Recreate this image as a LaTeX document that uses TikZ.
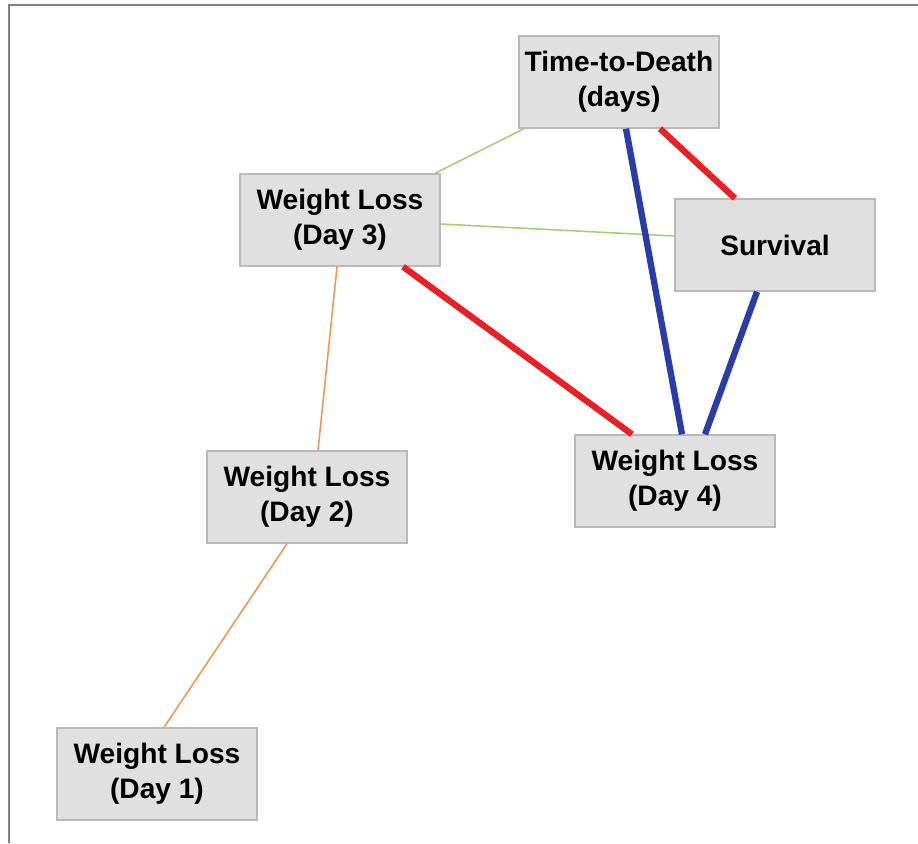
\documentclass[tikz,border=0pt]{standalone}
\usepackage{fontspec}
\setmainfont{Liberation Sans}
\usetikzlibrary{positioning}
\definecolor{boxfill}{RGB}{224,224,224}
\definecolor{boxline}{RGB}{185,185,185}
\definecolor{posred}{RGB}{232,32,40}
\definecolor{negblue}{RGB}{42,60,170}
\definecolor{weakgreen}{RGB}{165,205,115}
\definecolor{weakorange}{RGB}{240,150,80}
\tikzstyle{var} = [draw=boxline, fill=boxfill, line width=1pt, minimum width=5cm, minimum height=2.3cm, inner sep=2pt, align=center, font=\fontsize{20}{25}\selectfont\bfseries]
\tikzstyle{strongred} = [draw=posred, line width=4.5pt]
\tikzstyle{strongblue} = [draw=negblue, line width=4.5pt]
\tikzstyle{thingreen} = [draw=weakgreen, line width=1.1pt]
\tikzstyle{thinorange} = [draw=weakorange, line width=1.1pt]
\begin{document}
\begin{tikzpicture}[x=0.025cm,y=-0.025cm]
\useasboundingbox (0,0) rectangle (918,843);
% frame
\draw [gray, line width=1pt] (9,843) -- (9,5) -- (918,5);
\node (ttd) at (619,82) [var] {Time-to-Death\\(days)};
\node (day3) at (340,220) [var] {Weight Loss\\(Day 3)};
\node (surv) at (775,245) [var] {Survival};
\node (day4) at (675,481) [var] {Weight Loss\\(Day 4)};
\node (day2) at (307,497) [var] {Weight Loss\\(Day 2)};
\node (day1) at (157,774) [var] {Weight Loss\\(Day 1)};
% draw lines
\path [thingreen] ([xshift=-2.375cm]ttd.south) -- ([xshift=2.375cm]day3.north);
\path [thingreen] ([yshift=-0.1cm]day3.east) -- ([yshift=0.225cm]surv.west);
\path [thinorange] ([xshift=-0.075cm]day3.south) -- ([xshift=0.275cm]day2.north);
\path [thinorange] ([xshift=-0.5cm]day2.south) -- ([xshift=0.175cm]day1.north);
\path [strongred] ([xshift=1.025cm]ttd.south) -- ([xshift=-1cm]surv.north);
\path [strongred] ([xshift=1.575cm]day3.south) -- ([xshift=-1.075cm]day4.north);
\path [strongblue] ([xshift=0.175cm]ttd.south) -- ([xshift=0.175cm]day4.north);
\path [strongblue] ([xshift=-0.45cm]surv.south) -- ([xshift=0.75cm]day4.north);
\end{tikzpicture}
\end{document}
